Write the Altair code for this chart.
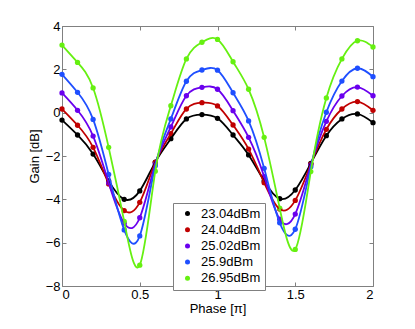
import altair as alt
import pandas as pd

phase = [0.0, 0.1, 0.2, 0.3, 0.4, 0.5, 0.6, 0.7, 0.8, 0.9, 1.0,
         1.1, 1.2, 1.3, 1.4, 1.5, 1.6, 1.7, 1.8, 1.9, 2.0]

series_names = ["23.04dBm", "24.04dBm", "25.02dBm", "25.9dBm", "26.95dBm"]
series_colors = ["#000000", "#c00000", "#6a00ee", "#1f4fff", "#66f011"]

gain_2304 = [-0.34, -1.03, -1.91, -3.15, -4.00, -3.61, -2.28, -1.20, -0.29, -0.09, -0.26,
             -1.03, -1.95, -3.15, -3.97, -3.57, -2.34, -1.06, -0.29, -0.06, -0.46]
gain_2404 = [0.17, -0.58, -1.60, -3.29, -4.52, -4.14, -2.30, -0.97, 0.17, 0.46, 0.31,
             -0.57, -1.68, -3.23, -4.45, -4.05, -2.38, -0.77, 0.17, 0.51, 0.11]
gain_2502 = [0.91, 0.11, -1.08, -3.23, -5.10, -4.85, -2.38, -0.66, 0.78, 1.17, 1.08,
             0.09, -1.14, -2.95, -4.92, -4.68, -2.42, -0.40, 0.77, 1.18, 0.78]
gain_2590 = [1.77, 0.94, -0.31, -2.85, -5.41, -5.69, -2.45, -0.29, 1.45, 1.97, 1.96,
             0.92, -0.38, -2.57, -5.08, -5.38, -2.50, 0.02, 1.46, 2.05, 1.66]
gain_2695 = [3.12, 2.32, 1.14, -1.60, -5.02, -7.04, -2.70, 0.32, 2.48, 3.25, 3.38,
             2.35, 1.08, -1.14, -4.41, -6.31, -2.72, 0.68, 2.48, 3.32, 3.03]

x_ticks = [0, 0.5, 1, 1.5, 2]
y_ticks = [-8, -6, -4, -2, 0, 2, 4]

all_series = [gain_2304, gain_2404, gain_2502, gain_2590, gain_2695]
rows = []
for name, vals in zip(series_names, all_series):
    for p, g in zip(phase, vals):
        rows.append({"phase": p, "gain": g, "series": name})
df = pd.DataFrame(rows)

FONT = "Liberation Sans"
GRID_GREY = "#808080"

color_scale = alt.Scale(domain=series_names, range=series_colors)
legend = alt.Legend(title=None, orient="none", legendX=111, legendY=177,
                    symbolType="circle", symbolSize=25, symbolStrokeWidth=0,
                    symbolOffset=4, labelOffset=7,
                    padding=4, rowPadding=2.2,
                    labelFontSize=13, labelFont=FONT,
                    strokeColor=GRID_GREY, fillColor="white")
color_enc = alt.Color("series:N", scale=color_scale, legend=legend)

x_bottom = alt.X("phase:Q", scale=alt.Scale(domain=[0, 2], nice=False),
                 axis=alt.Axis(orient="bottom", values=x_ticks, format="~g", title="Phase [π]",
                               offset=-4, tickSize=4, tickColor=GRID_GREY, domain=False,
                               grid=False, labelPadding=2, titlePadding=1))
y_left = alt.Y("gain:Q", scale=alt.Scale(domain=[-8, 4], nice=False),
               axis=alt.Axis(orient="left", values=y_ticks, format="~g", title="Gain [dB]",
                             offset=-4, tickSize=4, tickColor=GRID_GREY, domain=False,
                             grid=False, labelPadding=2, titlePadding=4))

x_top = alt.X("phase:Q", scale=alt.Scale(domain=[0, 2], nice=False),
              axis=alt.Axis(orient="top", values=x_ticks, labels=False, title=None,
                            offset=-4, tickSize=4, tickColor=GRID_GREY, domain=False, grid=False))
y_right = alt.Y("gain:Q", scale=alt.Scale(domain=[-8, 4], nice=False),
                axis=alt.Axis(orient="right", values=y_ticks, labels=False, title=None,
                              offset=-4, tickSize=4, tickColor=GRID_GREY, domain=False, grid=False))

points = alt.Chart(df).mark_circle(size=28, opacity=1).encode(
    x=x_top,
    y=y_right,
    color=color_enc,
)

lines = alt.Chart(df).mark_line(interpolate="natural", strokeWidth=1.8).encode(
    x=x_bottom,
    y=y_left,
    color=color_enc,
    detail="series:N",
)

chart = alt.layer(points, lines).resolve_axis(x="independent", y="independent").properties(
    width=311,
    height=260,
    autosize=alt.AutoSizeParams(type="none"),
    padding={"left": 54, "top": 18, "right": 34, "bottom": 35},
).configure_view(
    stroke=GRID_GREY, strokeWidth=1
).configure_axis(
    labelFont=FONT, titleFont=FONT, labelFontSize=13, titleFontSize=13,
    labelColor="black", titleColor="black", titleFontWeight="normal"
)

chart.save("out.html", embed_options={"renderer": "svg", "actions": False})
